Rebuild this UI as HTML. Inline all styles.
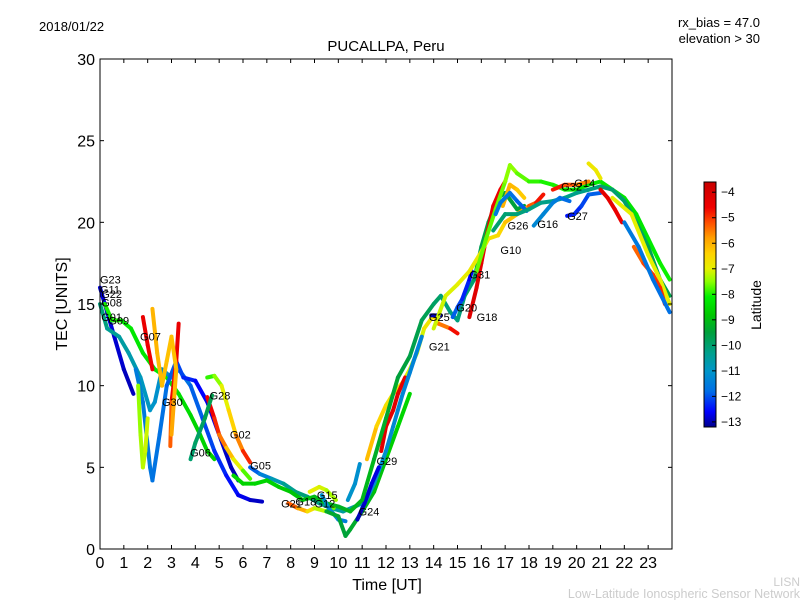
<!DOCTYPE html>
<html><head><meta charset="utf-8"><style>
html,body{margin:0;padding:0;background:#fff;}
svg{display:block;font-family:"Liberation Sans","DejaVu Sans",sans-serif;}
</style></head><body>
<svg id="chart" width="800" height="600" viewBox="0 0 800 600">
<defs><linearGradient id="cbgrad" x1="0" y1="1" x2="0" y2="0"></linearGradient></defs>
<text x="39" y="31" font-size="13">2018/01/22</text>
<text x="760" y="27" font-size="13" text-anchor="end">rx_bias = 47.0</text>
<text x="760" y="43" font-size="13" text-anchor="end">elevation &gt; 30</text>
<text x="386" y="51" font-size="15" text-anchor="middle">PUCALLPA, Peru</text>
<g id="plot"></g>
<rect x="100" y="59" width="572" height="490" fill="none" stroke="#000" stroke-width="1"/>
<g id="axes"></g>
<text x="387" y="590" font-size="16" text-anchor="middle">Time [UT]</text>
<text transform="translate(67,304) rotate(-90)" font-size="16" text-anchor="middle">TEC [UNITS]</text>
<rect x="704" y="182" width="12" height="245" fill="url(#cbgrad)" stroke="#000" stroke-width="1"/>
<g id="cbticks"></g>
<text transform="translate(761,305) rotate(-90)" font-size="14" text-anchor="middle">Latitude</text>
<text x="800" y="586" font-size="12" fill="#ccc" text-anchor="end">LISN</text>
<text x="800" y="598" font-size="12.5" fill="#ccc" text-anchor="end">Low-Latitude Ionospheric Sensor Network</text>
</svg>
<script>
const xTicks=[0,1,2,3,4,5,6,7,8,9,10,11,12,13,14,15,16,17,18,19,20,21,22,23];
const yTicks=[0,5,10,15,20,25,30];
const cbTicks=[-4,-5,-6,-7,-8,-9,-10,-11,-12,-13];
const trackTimes=[
[0,0.3,0.6,1,1.4],
[0.2,0.5,0.9,1.3,1.8,2.3,2.8,3.3,3.8,4.2,4.5,4.8],
[0,0.3,0.8,1.2,1.7,2.1,2.3,2.6,3,3.3,3.8,4.3,4.8,5.3,5.8,6.3,6.8],
[1.5,1.8,2.1,2.2,2.5,2.8,3.2,3.5,4,4.5,5,5.5,5.8],
[1.6,1.7,1.8,1.9,2.0],
[1.8,2,2.2],
[3.3,3.2,3,2.95],
[2.2,2.4,2.6,2.8,3,3.2,3.1,3.0],
[4.5,4.8,5,5.3,5.6,6,6.3],
[4.5,4.8,5.1,5.4,5.7,6,6.3],
[3.8,4,4.4,4.7],
[6.3,6.7,7.2,7.7,8.2,8.7,9.2,9.7,10.2,10.7,11],
[5.6,6,6.5,7,7.5,8,8.5,9,9.5,10,10.5,11],
[7.9,8.3,8.7,9,9.5,9.8],
[8.8,9.2,9.5,9.9],
[9.3,9.6,10,10.3],
[9.5,10,10.3,10.5,11,11.5,12,12.5,13],
[10.4,10.7,10.9],
[11.2,11.6,12,12.3,12.7,13,13.3,13.6,14,14.2,14.7,15],
[11.8,12,12.3,12.5,12.8],
[11,11.5,12,12.3,12.7,13,13.5],
[10.8,11.1,11.4,11.7],
[11,11.5,12,12.5,13,13.5,14,14.3,14.7,15,15.3,15.7,16,16.3,16.7,17,17.5,17.8],
[13.9,14.3],
[14.8,15,15.2,15.5,15.6],
[15.5,15.8,16,16.2,16.5,16.8,17],
[14,14.5,15,15.5,16,16.3,16.7,17,17.5,18,18.3,18.6],
[15.8,16.2,16.6,17,17.2,17.5,18,18.5,19,19.5,20,20.5,21,21.5,22,22.5,23,23.5,23.9],
[16.9,17.2,17.5,17.8],
[16.6,16.8,17.2,17.5,17.9],
[16.5,17,17.5,18,18.5,19,19.5,20,20.5,21,21.5,22,22.5,23,23.5,23.9],
[18.2,18.6,19,19.3,19.7],
[19.6,19.9,20.2,20.5,21],
[19,19.5,20,20.5],
[20.5,20.8,21],
[21,21.3,21.6,21.9],
[21.5,22.3,23,23.5,23.9],
[22.4,22.8,23.2,23.5,23.7],
[22,22.6,23.2,23.9]
];
const trackTEC=[
[16,14.5,13,11,9.5],
[15,14,14,13.5,12,11,10.5,9.5,8.2,7,6,5.5],
[15,13.5,13,12,10.5,8.5,9,11,10.5,11,10,8,6,4.5,3.3,3,2.9],
[11,9,5,4.2,7,10,11.5,10.5,10.3,9,7,5,4.2],
[10,7,5,6,8],
[14.2,12.5,11],
[13.8,11.5,9,6.3],
[14.7,12,10,11.5,13,11,9,7],
[9.3,8,7,6.2,5.5,4.8,4.3],
[10.5,10.6,10,8.5,7,6,5.3],
[5.5,6.5,8,9.4],
[5,4.6,4.3,4,3.5,3.2,2.8,2.5,2.3,2.6,2.8],
[4.5,4,4,4.2,3.8,3.5,3,3.2,2.8,2.6,2.3,3],
[2.8,2.5,2.3,2.5,2.3,2.5],
[3.5,3.8,3.6,3],
[3.3,2.5,1.8,1.7],
[2.3,2,0.8,1.2,2.3,3.5,5.5,7.5,9.5],
[3,4,5.2],
[5.5,7.5,8.8,9.5,10.2,11,12,13.5,14.3,13.8,13.5,13.2],
[6,7.5,8.5,9.5,10.5],
[2.5,4,6,7.5,9.5,10.8,13],
[1.8,2.8,4,5],
[3,5.5,8,10.5,11.8,14,15,15.5,14.5,14,15.5,16.5,18.5,20,21.5,21.8,20.8,21],
[14.3,14.3],
[14.2,14.8,15.3,16.5,17],
[14.2,16,17.5,19,21,22,22.5],
[13.5,15.5,16.2,17,18.2,19,19.2,20,20.5,21,21.2,21.7],
[17,19,20.8,22.5,23.5,23,22.5,22.5,22.3,22,22,22.3,22.5,22,21.5,20.5,19,17.5,16.5],
[21,22.3,22,21.5],
[20.5,21.2,21.8,21.3,20.7],
[19.5,20.5,20.5,20.8,21.2,21.3,21.5,21.8,22,22.2,22,21.3,20,18.5,16.5,15.5],
[19.8,20.5,21.2,21.5,21.3],
[20.4,20.5,21,21.7,21.8],
[22,22.3,22.3,22.5],
[23.6,23.2,22.7],
[22,21.5,20.8,20],
[21.5,20.5,18,16.5,15],
[18.5,17.5,16.8,16,15],
[20,18.5,16.5,14.5]
];
const trackLat=[
[-12.8,-12.8,-12.8,-12.9,-13],
[-8,-8,-8,-8.2,-8.3,-8.3,-8.2,-8.3,-8.5,-8.6,-8.6,-8.7],
[-10,-10.3,-10.5,-10.6,-10.8,-11,-11,-11.2,-11.4,-11.6,-11.8,-12,-12.2,-12.4,-12.6,-12.8,-13],
[-11.5,-11.5,-11.6,-11.7,-11.7,-11.8,-12,-12.2,-12.5,-12.7,-12.8,-13,-13],
[-7.5,-7.4,-7.3,-7.2,-7.1],
[-4.4,-4.5,-4.6],
[-4.4,-4.5,-4.8,-5.8],
[-6,-6.1,-6.1,-6.2,-6.2,-6.2,-6,-5.8],
[-4.5,-4.6,-5.2,-5.8,-6.5,-7.5,-8],
[-8,-7.8,-7.2,-6.8,-6,-5.2,-4.6],
[-10,-10,-9.8,-9.6],
[-12,-11.8,-11,-10.5,-10.2,-10,-10.2,-10.4,-10.5,-10.6,-10.8],
[-8.5,-8.6,-8.6,-8.5,-8.7,-8.8,-8.9,-9,-9.1,-9.2,-9.2,-9],
[-5,-5.6,-6.3,-7,-7.5,-7.8],
[-7,-7,-7.2,-7.5],
[-11,-11.2,-11.4,-11.5],
[-9.3,-9.4,-9.5,-9.4,-9.2,-9,-8.8,-8.6,-8.5],
[-11,-11.1,-11.2],
[-6,-6.3,-6.6,-6.8,-7,-7.1,-7.2,-7,-6.5,-6,-5,-4.4],
[-4.2,-4.2,-4.3,-4.3,-4.4],
[-11,-11.1,-11.2,-11.3,-11.3,-11.4,-11.4],
[-13,-12.9,-12.8,-12.7],
[-9,-9.2,-9.3,-9.4,-9.6,-9.7,-9.8,-10,-10.2,-10.2,-10.1,-9.9,-9.7,-9.6,-9.5,-9.5,-9.5,-9.4],
[-13,-13],
[-11.8,-12,-12.2,-12.5,-12.8],
[-4.2,-4.2,-4.3,-4.3,-4.4,-4.5,-4.6],
[-7.2,-7.1,-7,-6.9,-6.8,-6.7,-6.6,-6.4,-6,-5.5,-5,-4.5],
[-7.6,-7.7,-7.7,-7.6,-7.4,-7.6,-7.8,-8,-8,-8,-8.1,-8.2,-8.2,-8.3,-8.3,-8.3,-8.2,-8.1,-8],
[-6,-6,-6.2,-6.4],
[-11.5,-11.6,-11.7,-11.8,-12],
[-10,-10,-10.1,-10.2,-10.2,-10.3,-10.3,-10.3,-10.2,-10.1,-10,-10,-9.9,-9.8,-9.7,-9.6],
[-11.3,-11.3,-11.4,-11.6,-12],
[-12.5,-12.4,-12.2,-12,-11.8],
[-4.6,-5,-5.4,-5.8],
[-6.8,-6.8,-6.9],
[-4.3,-4.3,-4.4,-4.5],
[-7,-7,-7,-7,-7],
[-5.5,-5.2,-5,-5,-4.8],
[-11.5,-11.6,-11.7,-11.8]
];
const labelNames=["G23","G11","G22","G08","G01","G09","G07","G30","G28","G02","G06","G05","G21","G18","G15","G12","G24","G29","G21","G25","G20","G18","G31","G10","G26","G16","G27","G32","G14"];
const labelTimes=[0,0,0.05,0.05,0.05,0.35,1.68,2.6,4.6,5.45,3.78,6.3,7.6,8.2,9.1,9.0,10.85,11.6,13.8,13.8,14.95,15.8,15.5,16.8,17.1,18.35,19.6,19.35,19.9];
const labelTEC=[16.5,15.9,15.6,15.1,14.2,14.0,13.0,9.0,9.4,7.0,5.9,5.1,2.8,2.9,3.3,2.8,2.3,5.4,12.4,14.2,14.8,14.2,16.8,18.3,19.8,19.9,20.4,22.2,22.4];

const NS="http://www.w3.org/2000/svg";
const X0=100,X1=672,Y0=549,Y1=59;
function xs(t){return X0+t*(X1-X0)/24;}
function ys(v){return Y0-v*(Y0-Y1)/30;}
const cbMin=-13.2,cbMax=-3.6;
function cbY(l){return 427-(l-cbMin)*(427-182)/(cbMax-cbMin);}
const cstops=[[-13.2,[0,0,140]],[-12.6,[0,0,255]],[-11.8,[0,110,230]],[-11,[0,150,200]],[-10.3,[0,160,140]],[-9.5,[0,160,60]],[-8.8,[0,200,0]],[-8.1,[0,240,0]],[-7.5,[140,255,0]],[-7,[230,240,0]],[-6.4,[255,210,0]],[-5.8,[255,160,0]],[-5.2,[255,80,0]],[-4.6,[240,0,0]],[-3.6,[200,0,0]]];
function color(l){
 if(l<=cstops[0][0])return 'rgb('+cstops[0][1].join(',')+')';
 for(let i=1;i<cstops.length;i++){if(l<=cstops[i][0]){const a=cstops[i-1],b=cstops[i];const f=(l-a[0])/(b[0]-a[0]);
  return 'rgb('+a[1].map((c,k)=>Math.round(c+(b[1][k]-c)*f)).join(',')+')';}}
 return 'rgb('+cstops[cstops.length-1][1].join(',')+')';
}
const grad=document.getElementById('cbgrad');
cstops.forEach(s=>{const st=document.createElementNS(NS,'stop');st.setAttribute('offset',((s[0]-cbMin)/(cbMax-cbMin)));st.setAttribute('stop-color','rgb('+s[1].join(',')+')');grad.appendChild(st);});

const plot=document.getElementById('plot');
trackTimes.forEach((ts,i)=>{
 const g=document.createElementNS(NS,'g');
 
 
 for(let j=0;j<ts.length-1;j++){
  const ln=document.createElementNS(NS,'line');
  ln.setAttribute('x1',xs(ts[j]));ln.setAttribute('y1',ys(trackTEC[i][j]));
  ln.setAttribute('x2',xs(ts[j+1]));ln.setAttribute('y2',ys(trackTEC[i][j+1]));
  ln.setAttribute('stroke',color((trackLat[i][j]+trackLat[i][j+1])/2));
  ln.setAttribute('stroke-width','4');ln.setAttribute('stroke-linecap','round');
  
  
  g.appendChild(ln);
 }
 plot.appendChild(g);
});
labelNames.forEach((n,i)=>{
 const t=document.createElementNS(NS,'text');
 t.setAttribute('x',xs(labelTimes[i]));t.setAttribute('y',ys(labelTEC[i])+4);
 t.setAttribute('font-size','11');t.textContent=n;
 
 
 plot.appendChild(t);
});
const axes=document.getElementById('axes');
function mk(tag,attrs,parent){const e=document.createElementNS(NS,tag);for(const k in attrs)e.setAttribute(k,attrs[k]);parent.appendChild(e);return e;}
xTicks.forEach(v=>{
 const x=xs(v);
 const l1=mk('line',{x1:x,y1:Y0,x2:x,y2:Y0-4,stroke:'#000'},axes);
 
 
 const l2=mk('line',{x1:x,y1:Y1,x2:x,y2:Y1+4,stroke:'#000'},axes);
 
 
 const t=mk('text',{x:x,y:568,'font-size':'16','text-anchor':'middle'},axes);t.textContent=v;
 
 
});
yTicks.forEach(v=>{
 const y=ys(v);
 const l1=mk('line',{x1:X0,y1:y,x2:X0+4,y2:y,stroke:'#000'},axes);
 
 
 const l2=mk('line',{x1:X1,y1:y,x2:X1-4,y2:y,stroke:'#000'},axes);
 
 
 const t=mk('text',{x:95,y:y+6,'font-size':'16','text-anchor':'end'},axes);t.textContent=v;
 
 
});
const cbt=document.getElementById('cbticks');
cbTicks.forEach(v=>{
 const y=cbY(v);
 const l=mk('line',{x1:712,y1:y,x2:716,y2:y,stroke:'#000'},cbt);
 
 
 const t=mk('text',{x:721,y:y+4,'font-size':'12'},cbt);t.textContent='\u2212'+Math.abs(v);
 
 
});
</script>
</body></html>
